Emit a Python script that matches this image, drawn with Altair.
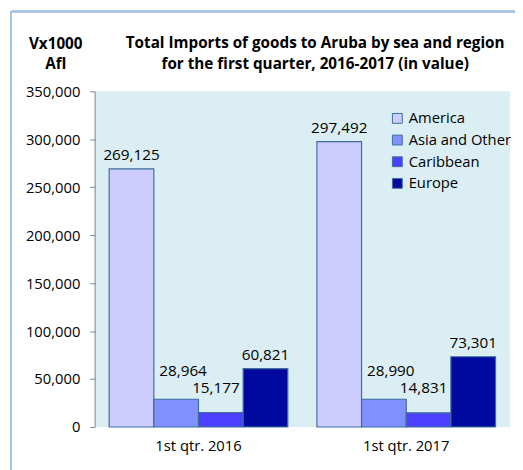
import altair as alt
import pandas as pd

quarters = ["1st qtr. 2016", "1st qtr. 2017"]
regions = ["America", "Asia and Other", "Caribbean", "Europe"]
values_2016 = [269125, 28964, 15177, 60821]
values_2017 = [297492, 28990, 14831, 73301]
colors = ["#CCCCFF", "#8090FF", "#4B40FF", "#0008A0"]
y_ticks = [0, 50000, 100000, 150000, 200000, 250000, 300000, 350000]
title_lines = ["Total Imports of goods to Aruba by sea and region",
               "for the first quarter,  2016-2017 (in value)"]

rows = []
for q, vals in zip(quarters, [values_2016, values_2017]):
    for r, v in zip(regions, vals):
        rows.append({"quarter": q, "region": r, "value": v})
df = pd.DataFrame(rows)

FONT = "Open Sans"
W, H = 422, 341

x = alt.X("quarter:N", sort=quarters,
          scale=alt.Scale(paddingInner=0.14, paddingOuter=0.07),
          axis=alt.Axis(title=None, labelAngle=0, ticks=False, domain=False,
                        labelPadding=12, labelFontSize=15, labelFont=FONT,
                        labelColor="#000000"))
xoff = alt.XOffset("region:N", sort=regions, scale=alt.Scale(paddingInner=0, paddingOuter=0))
y = alt.Y("value:Q", scale=alt.Scale(domain=[0, 350000], nice=False),
          axis=alt.Axis(values=y_ticks, format=",d", grid=False, tickSize=5,
                        tickColor="#868686", domainColor="#868686",
                        labelPadding=10, labelFontSize=15, labelFont=FONT,
                        labelColor="#000000",
                        title=["Vx1000", "Afl"], titleAngle=0, titleX=-40, titleY=-44,
                        titleAlign="center", titleBaseline="alphabetic",
                        titleFontSize=15.5, titleFont=FONT, titleFontWeight="bold",
                        titleLineHeight=21, titleColor="#000000"))

base = alt.Chart(df)

bars = base.mark_bar(stroke="#3F6E9C", strokeWidth=1.2).encode(
    x=x, xOffset=xoff, y=y,
    color=alt.Color("region:N", sort=regions,
                    scale=alt.Scale(domain=regions, range=colors),
                    legend=alt.Legend(title=None, orient="none", legendX=300, legendY=20,
                                      symbolType="square", symbolSize=100,
                                      symbolStrokeColor="#3F6E9C", symbolStrokeWidth=1,
                                      labelFontSize=15, labelFont=FONT, labelColor="#000000",
                                      rowPadding=6, labelOffset=4)),
)

labels = base.transform_filter(
    (alt.datum.region == "America") | (alt.datum.region == "Europe")
).mark_text(
    baseline="alphabetic", dy=-9, fontSize=15.5, font=FONT, color="#000000"
).encode(x=x, xOffset=xoff, y=y, text=alt.Text("value:Q", format=",d"))

labels_asia = base.transform_filter(alt.datum.region == "Asia and Other").mark_text(
    baseline="alphabetic", dy=-24, dx=7, fontSize=15.5, font=FONT, color="#000000"
).encode(x=x, xOffset=xoff, y=y, text=alt.Text("value:Q", format=",d"))

labels_car = base.transform_filter(alt.datum.region == "Caribbean").mark_text(
    baseline="alphabetic", dy=-20, dx=-5, fontSize=15.5, font=FONT, color="#000000"
).encode(x=x, xOffset=xoff, y=y, text=alt.Text("value:Q", format=",d"))

title_df = pd.DataFrame({"line": title_lines, "idx": [0, 1]})
title1 = alt.Chart(title_df).transform_filter(alt.datum.idx == 0).mark_text(
    fontSize=15.5, fontWeight="bold", font=FONT, color="#000000", baseline="alphabetic"
).encode(x=alt.value(224), y=alt.value(-44), text="line:N")
title2 = alt.Chart(title_df).transform_filter(alt.datum.idx == 1).mark_text(
    fontSize=15.5, fontWeight="bold", font=FONT, color="#000000", baseline="alphabetic"
).encode(x=alt.value(224), y=alt.value(-23), text="line:N")

frame_left = alt.Chart(df).mark_rule(color="#A9C4E0", strokeWidth=1.5).encode(
    x=alt.value(-85), y=alt.value(-81), y2=alt.value(390))
frame_top = alt.Chart(df).mark_rule(color="#A9C4E0", strokeWidth=1.5).encode(
    x=alt.value(-85), x2=alt.value(430), y=alt.value(-81))

chart = alt.layer(bars, labels, labels_asia, labels_car, title1, title2,
                  frame_left, frame_top).properties(
    width=W, height=H,
    padding={"left": 88, "top": 81, "right": 5, "bottom": 40},
    autosize=alt.AutoSizeParams(type="none"),
    background="#FFFFFF",
).configure_view(fill="#DAEEF3", stroke=None)

chart.save("out.html", embed_options={"renderer": "svg", "actions": False})
